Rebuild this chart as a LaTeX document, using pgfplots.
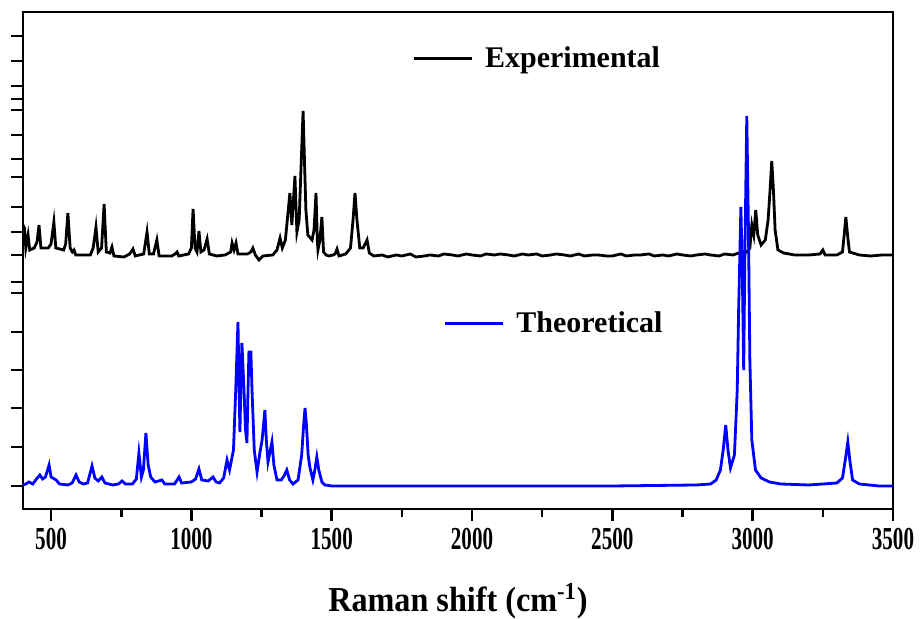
\documentclass[border=0pt]{standalone}
\usepackage{pgfplots}
\pgfplotsset{compat=1.18}
\usepackage{fontspec}
\setmainfont{Liberation Serif}
\newfontfamily\tickfont[FakeStretch=0.66]{Liberation Serif}
\newfontfamily\labfont[FakeStretch=0.92]{Liberation Serif}

\pgfplotstableread{
x y
400 285
405 282
410 262
418 275
424 260
440 262
450 268
457 285
464 262
490 262
500 266
510 288
517 262
545 260
552 266
560 297
568 262
576 258
582 260
588 255
640 255
650 262
660 283
668 258
680 262
689 306
697 258
710 257
717 263
724 254
760 253
780 256
792 261
800 254
830 256
842 278
850 256
865 256
877 270
885 254
930 254
942 256
949 258
955 254
990 256
1000 262
1006 301
1013 262
1020 258
1027 279
1034 258
1045 260
1056 271
1064 256
1090 254
1120 255
1140 258
1145 267
1152 260
1159 267
1166 256
1200 256
1212 258
1219 262
1228 255
1241 250
1255 254
1290 255
1305 260
1316 272
1324 262
1335 270
1351 317
1358 285
1369 334
1376 278
1384 290
1398 399
1408 300
1415 275
1430 270
1437 280
1444 317
1449 268
1451 260
1458 270
1465 293
1471 258
1480 255
1490 254
1505 255
1512 256
1519 261
1526 254
1550 256
1567 262
1576 290
1583 317
1590 290
1600 262
1612 262
1626 270
1634 257
1650 254
1680 255
1700 253
1730 255
1750 254
1780 256
1800 253
1830 254
1850 255
1880 254
1900 256
1930 255
1950 254
1980 256
2000 255
2030 254
2050 256
2080 255
2100 256
2130 255
2150 254
2180 256
2200 255
2230 256
2250 254
2280 255
2300 256
2330 255
2350 254
2380 256
2400 254
2430 255
2450 255
2480 254
2500 254
2530 256
2550 254
2580 255
2600 255
2630 256
2650 254
2680 255
2700 254
2730 256
2750 255
2780 254
2800 255
2830 256
2850 255
2880 254
2900 256
2930 255
2950 257
2980 258
2990 262
2997 285
3004 275
3011 300
3018 275
3030 265
3045 270
3055 290
3062 320
3068 349
3074 320
3080 280
3090 260
3110 257
3150 255
3200 255
3240 256
3250 260
3258 255
3300 255
3320 258
3326 275
3332 293
3338 275
3345 258
3380 255
3420 254
3460 255
3500 255
}\expdata

\pgfplotstableread{
x y
400 25
410 26
421 28
435 26
448 31
460 35
470 31
480 33
493 45
500 33
518 30
530 26
560 25
575 27
589 35
600 28
615 26
630 27
646 44
656 32
668 29
681 33
692 27
720 25
740 26
753 29
765 26
790 26
804 31
813 57
822 33
829 40
838 77
846 45
855 33
870 28
895 30
905 26
940 26
956 33
965 27
1000 28
1015 31
1027 41
1037 30
1060 29
1077 33
1088 28
1100 27
1115 32
1127 50
1136 40
1150 60
1158 120
1166 188
1170 120
1173 78
1176 120
1180 167
1186 130
1193 80
1198 67
1201 110
1205 158
1212 158
1216 120
1224 60
1234 38
1244 57
1252 70
1262 100
1267 70
1273 48
1280 58
1287 68
1294 45
1305 30
1320 30
1330 34
1340 40
1350 30
1362 26
1380 30
1393 55
1400 85
1405 102
1410 85
1416 55
1422 43
1433 30
1440 40
1447 53
1454 40
1465 28
1476 25
1500 24
2000 24
2500 24
2800 25
2850 26
2870 30
2885 40
2895 60
2904 85
2912 60
2921 42
2935 55
2945 120
2950 200
2958 303
2963 240
2968 140
2972 250
2979 394
2985 280
2990 150
2997 70
3010 40
3030 32
3060 28
3100 26
3200 25
3300 27
3320 32
3330 50
3339 68
3346 50
3356 30
3380 26
3450 24
3500 24
}\theodata

\pgfplotsset{
  common/.style={
    width=435pt, height=248.5pt, scale only axis,
    at={(0,0)}, anchor=south west,
    xmin=400, xmax=3500, ymin=1, ymax=498,
  },
  legend image code/.code={\draw[#1] (0pt,0pt) -- (29pt,0pt);},
}

\begin{document}
\begin{tikzpicture}
\useasboundingbox (-11.5pt,-55pt) rectangle (450pt,254.5pt);
\begin{axis}[
  common,
  axis line style={line width=1.4pt},
  tick align=outside,
  xtick pos=bottom, ytick pos=left,
  xtick={500,1000,1500,2000,2500,3000,3500},
  xticklabels={500,1000,1500,2000,2500,3000,3500},
  minor xtick={750,1250,1750,2250,2750,3250},
  major tick length=6pt, minor tick length=4pt,
  every tick/.style={line width=1.3pt, black},
  ytick={24,63,102,140,178,217,228,255,278,303,333,351,375,400,411,424,449,474},
  yticklabels={},
  xticklabel style={font=\tickfont\bfseries\fontsize{16}{18}\selectfont},
  xlabel={Raman shift (cm\textsuperscript{-1})},
  xlabel style={font=\labfont\bfseries\fontsize{17.5}{20}\selectfont, at={(axis description cs:0.5,0)}, anchor=center, yshift=-46pt},
  legend style={at={(0.447,0.907)}, anchor=west, draw=none, fill=none, inner sep=0pt,
    font=\bfseries\fontsize{15}{18}\selectfont, column sep=4pt},
]
\addplot[black, line width=1.4pt] table {\expdata};
\addlegendentry{Experimental}
\end{axis}
\begin{axis}[
  common,
  hide axis,
  legend style={at={(0.483,0.374)}, anchor=west, draw=none, fill=none, inner sep=0pt,
    font=\bfseries\fontsize{15}{18}\selectfont, column sep=4pt},
]
\addplot[blue, line width=1.4pt] table {\theodata};
\addlegendentry{Theoretical}
\end{axis}
\end{tikzpicture}
\end{document}
